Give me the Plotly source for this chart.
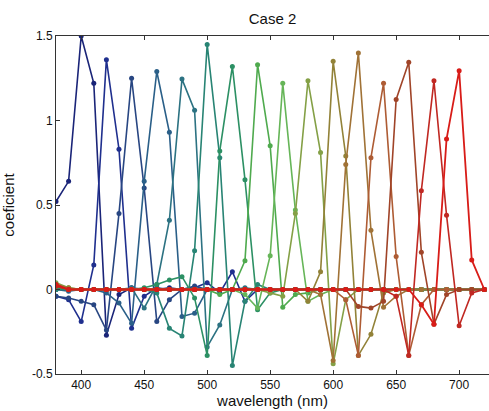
import plotly.graph_objects as go

wavelength = [380, 390, 400, 410, 420, 430, 440, 450, 460, 470, 480, 490, 500, 510, 520, 530, 540, 550,
              560, 570, 580, 590, 600, 610, 620, 630, 640, 650, 660, 670, 680, 690, 700, 710, 720]

#            380   390   400   410   420   430   440   450   460   470   480   490   500   510   520   530   540   550   560   570   580   590   600   610   620   630   640   650   660   670   680   690   700   710   720
s400 = [0.52, 0.64, 1.50, 1.22, -0.27, -0.03, 0.01, 0.00, 0.00, 0.01, 0.00, 0.00, 0.00, 0.00, 0.00, 0.00, 0.00, 0.00, 0.00, 0.00, 0.00, 0.00, 0.00, 0.00, 0.00, 0.00, 0.00, 0.00, 0.00, 0.00, 0.00, 0.00, 0.00, 0.00, 0.00]
s420 = [-0.04, -0.06, -0.19, 0.145, 1.36, 0.83, -0.23, -0.04, 0.01, 0.00, 0.00, 0.01, 0.04, -0.02, 0.105, -0.07, 0.00, 0.00, 0.00, 0.00, 0.00, 0.00, 0.00, 0.00, 0.00, 0.00, 0.00, 0.00, 0.00, 0.00, 0.00, 0.00, 0.00, 0.00, 0.00]
s440 = [-0.04, -0.05, -0.07, -0.09, -0.24, 0.45, 1.25, 0.60, -0.19, -0.06, 0.00, 0.02, 0.00, 0.00, 0.00, 0.00, 0.00, 0.00, 0.00, 0.00, 0.00, 0.00, 0.00, 0.00, 0.00, 0.00, 0.00, 0.00, 0.00, 0.00, 0.00, 0.00, 0.00, 0.00, 0.00]
s460 = [0.00, -0.01, 0.00, 0.00, -0.02, -0.08, -0.20, 0.64, 1.29, 0.93, -0.16, -0.14, 0.00, 0.00, 0.00, 0.00, 0.00, 0.00, 0.00, 0.00, 0.00, 0.00, 0.00, 0.00, 0.00, 0.00, 0.00, 0.00, 0.00, 0.00, 0.00, 0.00, 0.00, 0.00, 0.00]
s480 = [0.00, 0.00, 0.00, 0.00, 0.00, 0.00, 0.01, -0.11, 0.03, 0.41, 1.245, 1.06, -0.34, -0.21, 0.00, 0.01, 0.00, 0.00, 0.00, 0.00, 0.00, 0.00, 0.00, 0.00, 0.00, 0.00, 0.00, 0.00, 0.00, 0.00, 0.00, 0.00, 0.00, 0.00, 0.00]
s500 = [0.00, 0.00, 0.00, 0.00, 0.00, 0.00, 0.00, 0.00, -0.02, -0.23, -0.275, 0.23, 1.45, 0.78, -0.45, -0.07, 0.03, 0.00, 0.00, 0.00, 0.00, 0.00, 0.00, 0.00, 0.00, 0.00, 0.00, 0.00, 0.00, 0.00, 0.00, 0.00, 0.00, 0.00, 0.00]
s520 = [0.01, 0.00, 0.00, 0.00, 0.00, 0.00, 0.00, 0.01, 0.03, 0.056, 0.076, -0.05, -0.39, 0.82, 1.32, 0.65, -0.12, -0.02, 0.00, 0.00, 0.00, 0.00, 0.00, 0.00, 0.00, 0.00, 0.00, 0.00, 0.00, 0.00, 0.00, 0.00, 0.00, 0.00, 0.00]
s540 = [0.02, 0.00, 0.00, 0.00, 0.00, 0.00, 0.00, 0.00, 0.00, 0.00, 0.00, 0.00, 0.00, -0.03, 0.00, 0.17, 1.33, 0.85, -0.105, -0.03, -0.02, 0.00, 0.00, 0.00, 0.00, 0.00, 0.00, 0.00, 0.00, 0.00, 0.00, 0.00, 0.00, 0.00, 0.00]
s560 = [0.02, 0.00, 0.00, 0.00, 0.00, 0.00, 0.00, 0.00, 0.00, 0.00, 0.00, 0.00, 0.00, 0.00, 0.00, -0.03, -0.11, 0.20, 1.22, 0.47, -0.07, -0.03, 0.00, 0.00, 0.00, 0.00, 0.00, 0.00, 0.00, 0.00, 0.00, 0.00, 0.00, 0.00, 0.00]
s580 = [0.04, 0.01, 0.00, 0.00, 0.00, 0.00, 0.00, 0.00, 0.00, 0.00, 0.00, 0.00, 0.00, 0.00, 0.00, 0.00, 0.00, -0.02, -0.04, 0.45, 1.235, 0.81, -0.44, -0.06, 0.00, 0.00, 0.00, 0.00, 0.00, 0.00, 0.00, 0.00, 0.00, 0.00, 0.00]
s600 = [0.03, 0.01, 0.00, 0.00, 0.00, 0.00, 0.00, 0.00, 0.00, 0.00, 0.00, 0.00, 0.00, 0.00, 0.00, 0.00, 0.00, 0.00, 0.00, 0.00, -0.07, 0.105, 1.35, 0.79, -0.39, -0.265, -0.02, 0.00, 0.00, 0.00, 0.00, 0.00, 0.00, 0.00, 0.00]
s620 = [0.03, 0.00, 0.00, 0.00, 0.00, 0.00, 0.00, 0.00, 0.00, 0.00, 0.00, 0.00, 0.00, 0.00, 0.00, 0.00, 0.00, 0.00, 0.00, 0.00, 0.00, -0.03, -0.42, 0.74, 1.40, 0.35, -0.105, -0.04, 0.00, 0.00, 0.00, 0.00, 0.00, 0.00, 0.00]
s640 = [0.02, 0.00, 0.00, 0.00, 0.00, 0.00, 0.00, 0.00, 0.00, 0.00, 0.00, 0.00, 0.00, 0.00, 0.00, 0.00, 0.00, 0.00, 0.00, 0.00, 0.00, 0.00, 0.00, -0.06, -0.39, 0.78, 1.22, 0.195, -0.39, -0.09, 0.00, 0.00, 0.00, 0.00, 0.00]
s660 = [0.02, 0.00, 0.00, 0.00, 0.00, 0.00, 0.00, 0.00, 0.00, 0.00, 0.00, 0.00, 0.00, 0.00, 0.00, 0.00, 0.00, 0.00, 0.00, 0.00, 0.00, 0.00, 0.00, 0.00, -0.10, -0.11, -0.07, 1.125, 1.345, 0.22, -0.205, -0.03, 0.00, 0.00, 0.00]
s680 = [0.02, 0.00, 0.00, 0.00, 0.00, 0.00, 0.00, 0.00, 0.00, 0.00, 0.00, 0.00, 0.00, 0.00, 0.00, 0.00, 0.00, 0.00, 0.00, 0.00, 0.00, 0.00, 0.00, 0.00, 0.00, 0.00, 0.00, -0.04, -0.39, 0.585, 1.235, 0.44, -0.215, -0.02, 0.00]
s700 = [0.03, 0.00, 0.00, 0.00, 0.00, 0.00, 0.00, 0.00, 0.00, 0.00, 0.00, 0.00, 0.00, 0.00, 0.00, 0.00, 0.00, 0.00, 0.00, 0.00, 0.00, 0.00, 0.00, 0.00, 0.00, 0.00, 0.00, 0.00, 0.00, -0.09, -0.205, 0.89, 1.295, 0.175, 0.00]

series = [s400, s420, s440, s460, s480, s500, s520, s540,
          s560, s580, s600, s620, s640, s660, s680, s700]
colors = ["#1a2478", "#1f2f8e", "#284682", "#2a5f88", "#2c7282", "#288474", "#2c9064", "#4faa4e",
          "#66b558", "#84a046", "#928238", "#a07236", "#ae5c34", "#a04428", "#c02822", "#d81c18"]
widths = [1.6] * 15 + [1.8]

x_ticks = [400, 450, 500, 550, 600, 650, 700]
y_ticks = [-0.5, 0, 0.5, 1, 1.5]
y_tick_text = ["-0.5", "0", "0.5", "1", "1.5"]

fig = go.Figure()
for vals, col, w in zip(series, colors, widths):
    fig.add_trace(go.Scatter(
        x=wavelength, y=vals, mode="lines+markers",
        line=dict(color=col, width=w),
        marker=dict(color=col, size=5),
        showlegend=False, hoverinfo="skip"))

font_family = "Liberation Sans, Arial, Helvetica, sans-serif"
fig.update_layout(
    width=489, height=411,
    margin=dict(l=56, r=0, t=36, b=37),
    paper_bgcolor="white", plot_bgcolor="white",
    font=dict(family=font_family, size=12, color="#111"),
    title=dict(text="Case 2", x=0.5, xref="paper", y=1 - 19 / 411, yref="container",
               xanchor="center", yanchor="middle", font=dict(size=15, color="#111")),
    showlegend=False,
)
fig.update_xaxes(
    range=[380, 723.7], tickvals=x_ticks, ticks="inside", ticklen=4, tickcolor="#333",
    showline=True, linecolor="#333", linewidth=1, mirror="ticks",
    showgrid=False, zeroline=False,
    title=dict(text="wavelength (nm)", standoff=2, font=dict(size=15)),
)
fig.update_yaxes(
    range=[-0.5, 1.5], tickvals=y_ticks, ticktext=y_tick_text, ticks="inside", ticklen=4,
    tickcolor="#333", showline=True, linecolor="#333", linewidth=1,
    showgrid=False, zeroline=False,
    title=dict(text="coeficient", standoff=13, font=dict(size=15)),
)

fig.write_html("out.html")
